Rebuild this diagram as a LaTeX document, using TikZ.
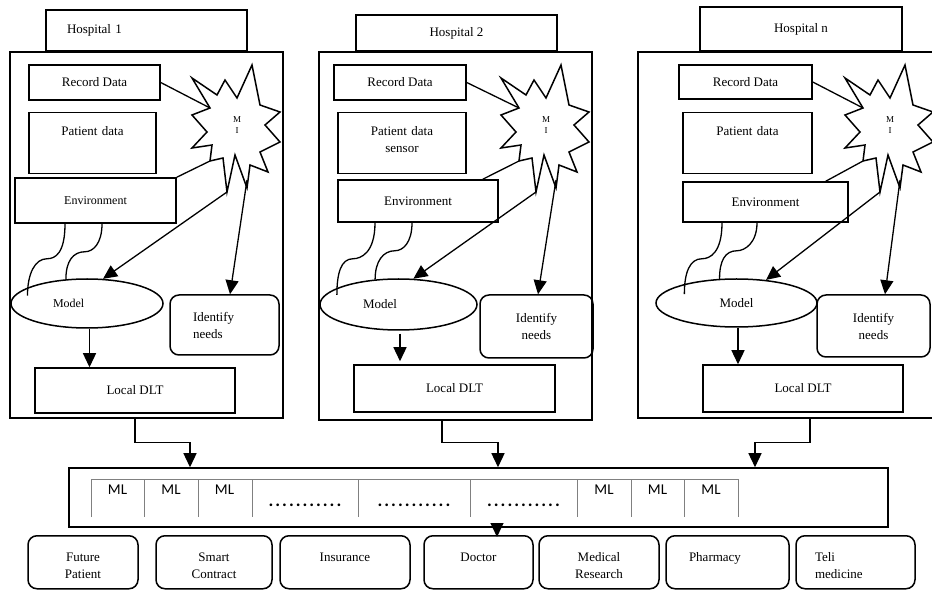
\documentclass[tikz,border=0pt]{standalone}
\usepackage{fontspec}
\setmainfont{Liberation Serif}
\newfontfamily\mlfont{Carlito}
\usetikzlibrary{arrows.meta,positioning,shapes.geometric}

\begin{document}
\begin{tikzpicture}[x=1pt,y=-1pt,>={Triangle[length=14pt,width=13pt]},line width=1.3pt,
  font=\fontsize{13}{17}\selectfont,node distance=53.5pt,
  box/.style={draw,rectangle,inner sep=0pt,line width=1.5pt},
  rbox/.style={box,rounded corners=9pt},
  blob/.style={draw,ellipse,inner sep=0pt,line width=1.5pt},
  burst/.style={inner sep=0pt,align=center,font=\fontsize{9}{11}\selectfont},
  explosion/.pic={\draw[line width=1.5pt,line join=miter] (-45,-47) -- (-20,-30) -- (-12,-45) -- (0,-27) -- (15,-60) -- (23,-20)
    -- (43,-13) -- (28,0) -- (43,17) -- (23,27) -- (31,47) -- (13,40) -- (10,63) -- (-2,30) -- (-10,67)
    -- (-14,33) -- (-27,36) -- (-25,20) -- (-45,23) -- (-30,7) -- (-45,-10) -- (-27,-17) -- cycle;},
  topbox/.style={box,anchor=north,align=center,text width=110pt,text height=23pt,text depth=38pt},
  user/.style={rbox,anchor=north,align=center,text width=90pt,text height=26pt,text depth=27pt},
  cell/.style={font=\mlfont\fontsize{15}{17}\selectfont},
  gap/.style={font=\mlfont\fontsize{18}{20}\selectfont\bfseries\addfontfeature{LetterSpace=11}}]
  \useasboundingbox (0,0) rectangle (932,593);

  \node[box,minimum width=201pt,minimum height=41pt,text width=159pt,align=left] (h1) at (146.5,30.5) {Hospital 1};
  \node[box,minimum width=273pt,minimum height=366pt] (o1) at (146.5,235) {};
  \node[box,minimum width=131pt,minimum height=35pt] (rd1) at (94.5,82.5) {Record Data};
  \node[topbox,minimum width=127pt] (pd1) at (92.5,112) {Patient data};
  \node[box,minimum width=161pt,minimum height=45pt,font=\fontsize{12}{14}\selectfont] (env1) at (95.5,200.5) {Environment};
  \node[burst] (mi1) at (237,125) {M\\I};
  \pic at (mi1) {explosion};
  \node[blob,minimum width=152pt,minimum height=49pt,text width=68pt,align=left,font=\fontsize{12}{14}\selectfont] (mod1) at (87,303.5) {Model};
  \node[rbox,minimum width=109pt,minimum height=60pt,text width=63pt,align=left] (id1) at (224.5,325) {Identify\\needs};
  \node[box,minimum width=200pt,minimum height=45pt] (dlt1) at (135,390.5) {Local DLT};
  \draw (rd1.east) -- ([shift={(-27,-17)}]mi1.center);
  \draw (env1.north east) -- ([shift={(-27,36)}]mi1.center);
  \draw[->] ([shift={(-10,67)}]mi1.center) -- (mod1.57);
  \draw[->] ([shift={(10,55)}]mi1.center) -- ([xshift=5.5pt]id1.north);
  \draw[->] ([xshift=2.5pt]mod1.south) -- ([xshift=-45.5pt]dlt1.north);
  \draw ([xshift=-30.5pt]env1.south) .. controls +(0,30) and +(8,0) .. ++(-18,35) .. controls +(-12,0) and +(0,-22) .. ([yshift=-8pt]mod1.165);
  \draw ([xshift=6.5pt]env1.south) .. controls +(0,20) and +(8,0) .. ++(-17,28) .. controls +(-12,0) and +(0,-18) .. (mod1.131);

  \node[box,minimum width=201pt,minimum height=36pt] (h2) at (456.5,33) {Hospital 2};
  \node[box,minimum width=273pt,minimum height=368pt] (o2) at (455.5,236) {};
  \node[box,minimum width=132pt,minimum height=35pt] (rd2) at (400,82.5) {Record Data};
  \node[topbox,minimum width=128pt] (pd2) at (402,112) {Patient data\\sensor};
  \node[box,minimum width=160pt,minimum height=42pt] (env2) at (418,201) {Environment};
  \node[burst] (mi2) at (546,125) {M\\I};
  \pic at (mi2) {explosion};
  \node[blob,minimum width=157pt,minimum height=51pt,text width=71pt,align=left] (mod2) at (398.5,304.5) {Model};
  \node[rbox,minimum width=113pt,minimum height=63pt,align=center] (id2) at (536.5,326.5) {Identify\\needs};
  \node[box,minimum width=201pt,minimum height=47pt] (dlt2) at (454.5,388.5) {Local DLT};
  \draw (rd2.east) -- ([shift={(-27,-17)}]mi2.center);
  \draw ([xshift=-16pt]env2.north east) -- ([shift={(-27,36)}]mi2.center);
  \draw[->] ([shift={(-10,67)}]mi2.center) -- (mod2.60);
  \draw[->] ([shift={(10,55)}]mi2.center) -- ([xshift=1.5pt]id2.north);
  \draw[->] ([xshift=1.5pt,yshift=-3pt]mod2.south) -- ([xshift=-54.5pt,yshift=3pt]dlt2.north);
  \draw ([xshift=-43pt]env2.south) .. controls +(0,30) and +(8,0) .. ++(-22,36) .. controls +(-12,0) and +(0,-22) .. ([yshift=-7pt]mod2.165);
  \draw ([xshift=-6pt]env2.south) .. controls +(0,20) and +(8,0) .. ++(-17,28) .. controls +(-12,0) and +(0,-18) .. (mod2.133);

  \node[box,minimum width=202pt,minimum height=44pt] (h3) at (801,29) {Hospital n};
  \node[box,minimum width=322pt,minimum height=366pt] (o3) at (799,235) {};
  \node[box,minimum width=133pt,minimum height=34pt] (rd3) at (745.5,82) {Record Data};
  \node[topbox,minimum width=129pt] (pd3) at (747.5,112) {Patient data};
  \node[box,minimum width=165pt,minimum height=40pt] (env3) at (765.5,202) {Environment};
  \node[burst] (mi3) at (890,125) {M\\I};
  \pic at (mi3) {explosion};
  \node[blob,minimum width=161pt,minimum height=48pt] (mod3) at (736.5,303) {Model};
  \node[rbox,minimum width=113pt,minimum height=62pt,align=center] (id3) at (873.5,326) {Identify\\needs};
  \node[box,minimum width=200pt,minimum height=47pt] (dlt3) at (803,388.5) {Local DLT};
  \draw (rd3.east) -- ([shift={(-27,-17)}]mi3.center);
  \draw ([xshift=-23pt]env3.north east) -- ([shift={(-27,36)}]mi3.center);
  \draw[->] ([shift={(-10,67)}]mi3.center) -- (mod3.38);
  \draw[->] ([shift={(10,55)}]mi3.center) -- ([xshift=11.5pt]id3.north);
  \draw[->] ([xshift=1.5pt]mod3.south) -- ([xshift=-65pt]dlt3.north);
  \draw ([xshift=-43.5pt]env3.south) .. controls +(0,30) and +(8,0) .. ++(-20,36) .. controls +(-12,0) and +(0,-22) .. ([yshift=-10pt]mod3.160);
  \draw ([xshift=-8.5pt]env3.south) .. controls +(0,20) and +(8,0) .. ++(-20,28) .. controls +(-12,0) and +(0,-18) .. (mod3.125);

  \node[box,minimum width=819pt,minimum height=59pt] (ledger) at (478.5,497.5) {};
  \draw[gray,line width=0.9pt] (91,517) -- (91,479) -- (738,479) -- (738,517) (144,479) -- (144,517)
    (198,479) -- (198,517) (252,479) -- (252,517) (358,479) -- (358,517) (470,479) -- (470,517)
    (577,479) -- (577,517) (631,479) -- (631,517) (684,479) -- (684,517);
  \node[cell] (ml1) at (117.5,490) {ML};
  \node[cell] (ml2) [right of=ml1] {ML};
  \node[cell] (ml3) [right of=ml2] {ML};
  \node[gap] (dots1) at (305,505) {...........};
  \node[gap] (dots2) at (414,505) {...........};
  \node[gap] (dots3) at (523.5,505) {...........};
  \node[cell] (ml4) at (604,490) {ML};
  \node[cell] (ml5) [right of=ml4] {ML};
  \node[cell] (ml6) [right of=ml5] {ML};

  \draw[->] ([xshift=-11.5pt]o1.south) -- ++(0,24) -| ([xshift=-288.5pt]ledger.north);
  \draw[->] ([xshift=-13.5pt]o2.south) -- ++(0,22) -| ([xshift=19.5pt]ledger.north);
  \draw[->] ([xshift=11pt]o3.south) -- ++(0,24) -| ([xshift=276.5pt]ledger.north);

  \node[user,minimum width=110pt] (fp) at (83,535) {Future\\Patient};
  \node[user,minimum width=116pt] (sc) at (214,535) {Smart\\Contract};
  \node[user,minimum width=130pt] (ins) at (345,535) {Insurance};
  \node[user,minimum width=109pt] (doc) at (478.5,535) {Doctor};
  \node[user,minimum width=120pt] (mr) at (599,535) {Medical\\Research};
  \node[user,minimum width=123pt,text width=77pt,align=left] (ph) at (727.5,535) {Pharmacy};
  \node[user,minimum width=119pt,text width=81pt,align=left] (tm) at (855.5,535) {Teli\\medicine};
  \draw[->] ([xshift=18.5pt,yshift=4pt]ledger.south) -- ([xshift=18.5pt,yshift=-2pt]doc.north);
\end{tikzpicture}
\end{document}
